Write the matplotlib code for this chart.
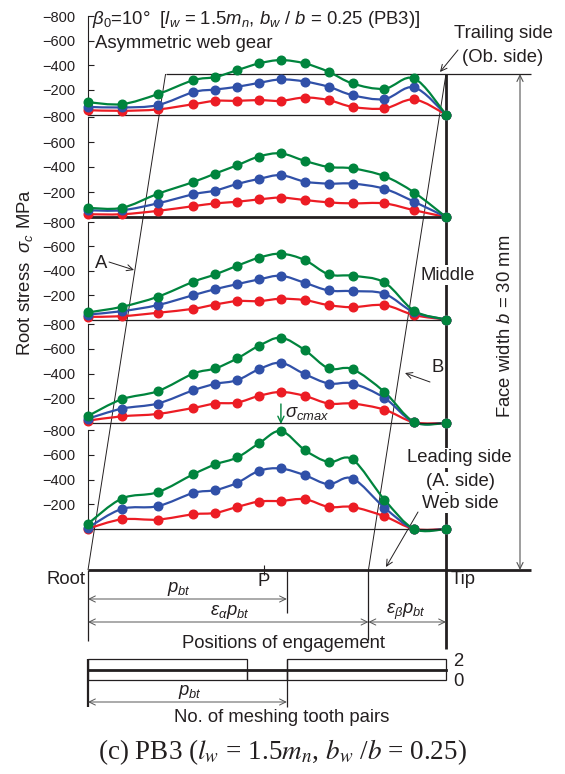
import numpy as np
import matplotlib
matplotlib.use('Agg')
import matplotlib.pyplot as plt
from matplotlib.path import Path
from matplotlib.patches import PathPatch

plt.rcParams['font.family'] = ['Liberation Sans', 'DejaVu Sans']
plt.rcParams['mathtext.fontset'] = 'custom'
plt.rcParams['mathtext.rm'] = 'Liberation Sans'
plt.rcParams['mathtext.it'] = 'Liberation Sans:italic'
plt.rcParams['mathtext.bf'] = 'Liberation Sans:bold'

# ---------------------------------------------------------------- data
# engagement positions along the path of contact, in units of p_bt
positions = [0.0, 0.17, 0.35, 0.53, 0.64, 0.75, 0.86, 0.97, 1.09, 1.21, 1.33, 1.49, 1.64, 1.80]
eps_alpha = 1.41          # transverse contact ratio
eps_beta = 0.39           # overlap ratio
pitch_point = 0.885       # pitch point P

# root stress (MPa) per face-width section, trailing side (top) -> leading side (bottom)
green_1 = [-100, -84, -165, -279, -304, -360, -415, -442, -415, -347, -252, -209, -293, 0]
blue_1 = [-62, -57, -76, -182, -203, -225, -257, -285, -268, -225, -157, -125, -220, 0]
red_1 = [-35, -30, -41, -84, -111, -111, -117, -111, -138, -117, -62, -49, -122, 0]

green_2 = [-73, -73, -185, -280, -348, -414, -484, -509, -449, -400, -389, -327, -196, 0]
blue_2 = [-54, -54, -109, -182, -212, -264, -305, -335, -283, -267, -267, -226, -122, 0]
red_2 = [-22, -22, -49, -87, -109, -122, -141, -155, -136, -117, -109, -109, -54, 0]

green_3 = [-58, -104, -186, -310, -370, -441, -507, -540, -488, -370, -359, -304, -71, 0]
blue_3 = [-41, -68, -118, -200, -249, -290, -329, -359, -301, -238, -233, -211, -58, 0]
red_3 = [-22, -27, -55, -88, -123, -151, -151, -170, -159, -118, -101, -118, -36, 0]

green_4 = [-57, -192, -257, -400, -441, -522, -624, -689, -589, -441, -435, -251, -8, 0]
blue_4 = [-35, -116, -157, -265, -316, -346, -435, -486, -395, -319, -319, -203, -5, 0]
red_4 = [-19, -54, -73, -122, -157, -165, -219, -251, -219, -157, -157, -108, -5, 0]

green_5 = [-43, -246, -297, -443, -522, -578, -692, -792, -638, -541, -562, -238, 0, 0]
blue_5 = [-11, -162, -184, -292, -314, -373, -470, -489, -435, -362, -408, -173, 0, 0]
red_5 = [-3, -78, -76, -119, -130, -178, -222, -227, -241, -178, -178, -103, 0, 0]

panels = [(red_1, blue_1, green_1), (red_2, blue_2, green_2), (red_3, blue_3, green_3),
          (red_4, blue_4, green_4), (red_5, blue_5, green_5)]

y_ticks = [-800, -600, -400, -200]
y_tick_labels = ['\u2212800', '\u2212600', '\u2212400', '\u2212200']

# number of meshing tooth pairs over one cycle
mesh_edges = [0.0, 0.80, 1.0, 1.80]
mesh_pairs = [2, 1, 2]

RED = '#ec1c24'
BLUE = '#3050a8'
GREEN = '#00843d'
INK = '#231f20'
GREY = '#555555'

# ---------------------------------------------------------------- layout (pixels)
W, H = 565, 774
X0, X1 = 88, 446
TOTAL = eps_alpha + eps_beta
panel_base = [114.5, 217, 319.5, 423, 529]
panel_top = [16, 117, 222, 324, 430]
thick_base = [False, True, False, False, False]
TOP_Y = 74
BASE_Y = 570
FS = 13.3


def ex(u):
    return X0 + u * (X1 - X0) / TOTAL


def smooth_path(xs, ys):
    pts = np.column_stack([xs, ys]).astype(float)
    n = len(pts)
    verts = [pts[0]]
    codes = [Path.MOVETO]
    for i in range(n - 1):
        p0 = pts[max(i - 1, 0)]
        p1 = pts[i]
        p2 = pts[i + 1]
        p3 = pts[min(i + 2, n - 1)]
        verts += [p1 + (p2 - p0) / 6.0, p2 - (p3 - p1) / 6.0, p2]
        codes += [Path.CURVE4] * 3
    return Path(verts, codes)


fig = plt.figure(figsize=(W / 100, H / 100), dpi=100)

ov = fig.add_axes([0, 0, 1, 1])
ov.set_xlim(0, W)
ov.set_ylim(H, 0)
ov.axis('off')


def line(xs, ys, lw=0.8, color=INK, **kw):
    ov.plot(xs, ys, color=color, lw=lw, solid_capstyle='butt', **kw)


def arrow(p_from, p_to, style='->', color=INK, lw=0.7):
    ov.annotate('', xy=p_to, xytext=p_from,
                arrowprops=dict(arrowstyle=style + ',head_length=0.45,head_width=0.22',
                                color=color, lw=lw, shrinkA=0, shrinkB=0))


# ---------------------------------------------------------------- stress panels
for k, (reds, blues, greens) in enumerate(panels):
    yb, yt = panel_base[k], panel_top[k]
    ax = fig.add_axes([X0 / W, 1 - yb / H, (X1 - X0) / W, (yb - yt) / H])
    ax.patch.set_visible(False)
    ax.set_xlim(0, TOTAL)
    ax.set_ylim(0, -800)
    for sp in ('top', 'right'):
        ax.spines[sp].set_visible(False)
    ax.spines['left'].set_linewidth(0.8)
    ax.spines['left'].set_color(INK)
    ax.spines['bottom'].set_linewidth(2.0 if thick_base[k] else 0.9)
    ax.spines['bottom'].set_color(INK)
    ax.set_xticks([])
    ax.set_yticks(y_ticks)
    ax.set_yticklabels(y_tick_labels)
    ax.tick_params(axis='y', direction='in', length=4, width=0.8, color=INK,
                   labelsize=10.5, labelcolor=INK, pad=9)
    for vals, col in ((reds, RED), (blues, BLUE), (greens, GREEN)):
        ax.add_patch(PathPatch(smooth_path(positions, vals), facecolor='none',
                               edgecolor=col, lw=1.6, clip_on=False))
        ax.plot(positions, vals, 'o', color=col, ms=6.2, mec=col, clip_on=False, zorder=3)
    if k == 4:
        i_max = int(np.argmin(greens))
        ax.annotate('', xy=(positions[i_max], greens[i_max]), xytext=(0, 27),
                    textcoords='offset pixels',
                    arrowprops=dict(arrowstyle='->,head_length=0.45,head_width=0.22',
                                    color=GREEN, lw=1.0, shrinkA=0, shrinkB=5))

# ---------------------------------------------------------------- frame lines
line([ex(eps_beta), 531], [TOP_Y, TOP_Y], lw=0.9)
line([X0, 531], [BASE_Y, BASE_Y], lw=2.0)
line([X1, X1], [TOP_Y, 649], lw=2.0)
# contact lines at the ends of engagement
line([ex(eps_beta), ex(0)], [TOP_Y, BASE_Y], lw=0.7)
line([ex(TOTAL), ex(eps_alpha)], [TOP_Y, BASE_Y], lw=0.7)
arrow((520, BASE_Y), (520, TOP_Y), style='<->', color=GREY, lw=0.8)

# ---------------------------------------------------------------- texts
ov.text(92, 19, r'$\beta_0$=10°  [$l_w$ = 1.5$m_n$, $b_w$ / $b$ = 0.25 (PB3)]',
        fontsize=FS, color=INK, va='center', ha='left')
ov.text(95, 43, 'Asymmetric web gear', fontsize=FS, color=INK, va='center', ha='left')
ov.text(25, 272, r'Root stress  $\sigma_c$ MPa', fontsize=FS, color=INK,
        rotation=90, va='center', ha='center')
ov.text(506, 326, r'Face width $b$ = 30 mm', fontsize=FS, color=INK,
        rotation=90, va='center', ha='center')

ov.text(503, 33, 'Trailing side', fontsize=FS, color=INK, ha='center', va='center')
ov.text(503, 57, '(Ob. side)', fontsize=FS, color=INK, ha='center', va='center')
arrow((458, 50), (440, 72))

box = dict(facecolor='white', edgecolor='none', pad=1.0)
ov.text(448, 275, 'Middle', fontsize=FS, color=INK, ha='center', va='center', bbox=box)
ov.text(459, 458, 'Leading side', fontsize=FS, color=INK, ha='center', va='center', bbox=box)
ov.text(460, 482, '(A. side)', fontsize=FS, color=INK, ha='center', va='center', bbox=box)
ov.text(460, 503, 'Web side', fontsize=FS, color=INK, ha='center', va='center', bbox=box)
arrow((418, 512), (386, 567))

ov.text(101, 263, 'A', fontsize=FS, color=INK, ha='center', va='center')
arrow((109, 262), (134, 270))
ov.text(438, 368, 'B', fontsize=FS, color=INK, ha='center', va='center')
arrow((430, 382), (405, 373))

ov.text(285, 413, r'$\sigma_{cmax}$', fontsize=FS, color=INK, ha='left', va='center')

# ---------------------------------------------------------------- engagement scale
ov.text(86, 580, 'Root', fontsize=FS, color=INK, ha='right', va='center')
ov.text(451, 580, 'Tip', fontsize=FS, color=INK, ha='left', va='center')
line([ex(pitch_point)] * 2, [565, 575], lw=0.8)
ov.text(ex(pitch_point), 582, 'P', fontsize=FS, color=INK, ha='center', va='center')

line([ex(0)] * 2, [BASE_Y, 641], lw=0.9)
line([ex(1.0)] * 2, [BASE_Y, 613], lw=0.9)
line([ex(eps_alpha)] * 2, [BASE_Y, 640], lw=0.9)

arrow((ex(0), 599), (ex(1.0), 599), style='<->', color=GREY)
ov.text(179, 589, r'$p_{bt}$', fontsize=FS, color=INK, ha='center', va='center')
arrow((ex(0), 622), (ex(eps_alpha), 622), style='<->', color=GREY)
ov.text(230, 612, r'$\varepsilon_\alpha p_{bt}$', fontsize=FS, color=INK, ha='center', va='center')
arrow((ex(eps_alpha), 622), (ex(TOTAL), 622), style='<->', color=GREY)
ov.text(406, 612, r'$\varepsilon_\beta p_{bt}$', fontsize=FS, color=INK, ha='center', va='center')
ov.text(283, 643, 'Positions of engagement', fontsize=FS, color=INK, ha='center', va='center')

# ---------------------------------------------------------------- meshing tooth pairs
mb, mt = 680, 659
mx = fig.add_axes([X0 / W, 1 - mb / H, (X1 - X0) / W, (mb - mt) / H])
mx.patch.set_visible(False)
mx.set_xlim(0, TOTAL)
mx.set_ylim(0, 2)
for sp in mx.spines.values():
    sp.set_visible(False)
lefts = mesh_edges[:-1]
widths = np.diff(mesh_edges)
mx.bar(lefts, mesh_pairs, width=widths, align='edge', fill=False,
       edgecolor=INK, lw=0.9, clip_on=False)
mx.axhline(1, color=INK, lw=2.0, clip_on=False)
mx.set_xticks([])
mx.yaxis.tick_right()
mx.set_yticks([0, 2])
mx.set_yticklabels(['0', '2'])
mx.tick_params(axis='y', length=0, pad=5, labelsize=FS, labelcolor=INK)

line([ex(0)] * 2, [mt, 707], lw=1.6)
line([ex(1.0)] * 2, [mt, 707], lw=0.9)
arrow((ex(0), 702), (ex(1.0), 702), style='<->', color=GREY)
ov.text(190, 692, r'$p_{bt}$', fontsize=FS, color=INK, ha='center', va='center')
ov.text(282, 718, 'No. of meshing tooth pairs', fontsize=FS, color=INK, ha='center', va='center')

ov.text(282, 752, r'(c) PB3 ($l_w$ = 1.5$m_n$, $b_w$ /$b$ = 0.25)', fontsize=19.5,
        family='Liberation Serif', math_fontfamily='stix', color=INK,
        ha='center', va='center')

fig.savefig('out.png', dpi=100)
